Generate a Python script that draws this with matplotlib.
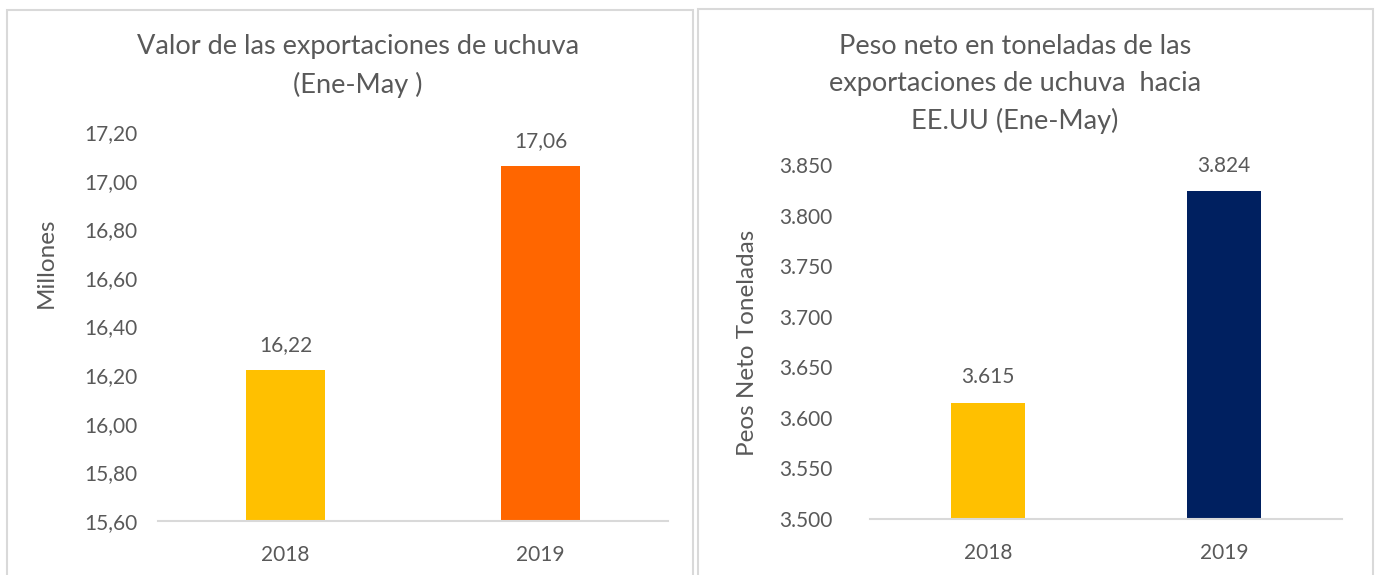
import matplotlib
matplotlib.use("Agg")
import matplotlib.pyplot as plt
from matplotlib.patches import Rectangle
from matplotlib.ticker import FuncFormatter

years = ["2018", "2019"]
valor_millones = [16.22, 17.06]
peso_toneladas = [3615, 3824]
valor_ticks = [15.6, 15.8, 16.0, 16.2, 16.4, 16.6, 16.8, 17.0, 17.2]
peso_ticks = [3500, 3550, 3600, 3650, 3700, 3750, 3800, 3850]

W, H = 1376, 575
TXT = "#595959"
GRID = "#D9D9D9"
plt.rcParams["font.family"] = ["Lato", "DejaVu Sans"]


def px(x, y):
    return x / W, 1 - y / H


def coma(v, _=None):
    return f"{v:.2f}".replace(".", ",")


def punto(v, _=None):
    return f"{int(round(v)):,}".replace(",", ".")


fig = plt.figure(figsize=(W / 100, H / 100), dpi=100)

# marcos de cada grafico
for x0, y0, x1 in [(7, 10, 693), (698, 9, 1373)]:
    fig.patches.append(Rectangle(px(x0, H + 5), (x1 - x0) / W, (H + 5 - y0) / H,
                                 transform=fig.transFigure, fill=False,
                                 edgecolor=GRID, linewidth=1.5))


def panel(rect, values, colors, ticks, fmt, ypad):
    ax = fig.add_axes(rect)
    bars = ax.bar([0, 1], values, width=0.31, color=colors, zorder=2)
    ax.set_xlim(-0.5, 1.5)
    ax.set_ylim(ticks[0], ticks[-1])
    ax.set_yticks(ticks)
    ax.yaxis.set_major_formatter(FuncFormatter(fmt))
    ax.set_xticks([0, 1])
    ax.set_xticklabels(years)
    for s in ["top", "right", "left"]:
        ax.spines[s].set_visible(False)
    ax.spines["bottom"].set_color(GRID)
    ax.spines["bottom"].set_linewidth(1.5)
    ax.tick_params(length=0, colors=TXT, labelsize=15)
    ax.tick_params(axis="y", pad=ypad)
    ax.tick_params(axis="x", pad=17)
    for b, v in zip(bars, values):
        ax.annotate(fmt(v), (b.get_x() + b.get_width() / 2, v),
                    xytext=(0, 11), textcoords="offset points",
                    ha="center", va="bottom", color=TXT, fontsize=15)
    return ax


panel([158 / W, 54 / H, 510 / W, 389 / H], valor_millones,
      ["#FFC000", "#FF6600"], valor_ticks, coma, 14.5)
panel([870 / W, 56 / H, 472 / W, 354 / H], peso_toneladas,
      ["#FFC000", "#002060"], peso_ticks, punto, 27)

fig.text(*px(46, 263), "Millones", rotation=90, ha="center", va="center",
         color=TXT, fontsize=17.5)
fig.text(*px(748, 343), "Peos Neto Toneladas", rotation=90, ha="center",
         va="center", color=TXT, fontsize=17.5)

fig.text(*px(358, 66), "Valor de las exportaciones de uchuva\n(Ene-May )",
         ha="center", va="center", color=TXT, fontsize=19.5, linespacing=1.6)
fig.text(*px(1015, 84),
         "Peso neto en toneladas de las\nexportaciones de uchuva  hacia\nEE.UU (Ene-May)",
         ha="center", va="center", color=TXT, fontsize=19.5, linespacing=1.6)

fig.savefig("out.png", dpi=100)
